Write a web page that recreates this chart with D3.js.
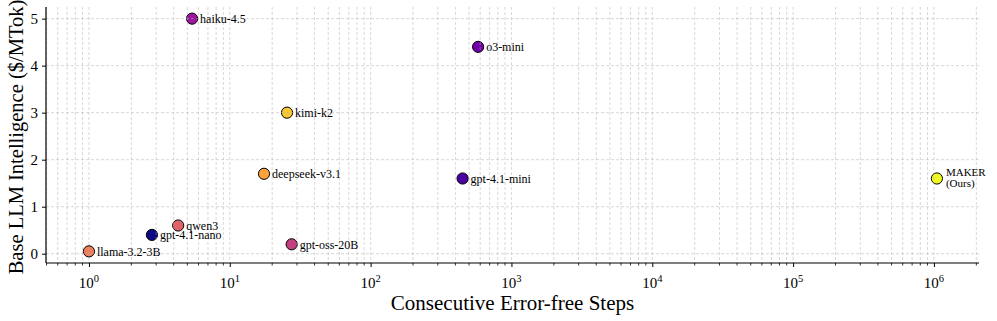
<!DOCTYPE html>
<html>
<head>
<meta charset="utf-8">
<script src="https://cdn.jsdelivr.net/npm/d3@7"></script>
<style>
  body { margin: 0; background: #fff; }
  svg { font-family: "Liberation Serif", "DejaVu Serif", serif; }
  .grid line { stroke: #b0b0b0; stroke-dasharray: 3,2; stroke-width: 0.8; opacity: 0.6; }
  .axis path, .axis line { stroke: #000; }
  .axis text { fill: #000; }
</style>
</head>
<body>
<div id="chart"></div>
<script>
// model names, steps and price
var models = ["llama-3.2-3B", "gpt-4.1-nano", "qwen3", "haiku-4.5", "deepseek-v3.1",
              "kimi-k2", "gpt-oss-20B", "gpt-4.1-mini", "o3-mini", "MAKER"];
var steps  = [1, 2.8, 4.3, 5.4, 17.5, 25.5, 27.5, 450, 580, 1.05e6];
var cost   = [0.05, 0.4, 0.6, 5, 1.7, 3, 0.2, 1.6, 4.4, 1.6];
var colors = ["#ef7d5a", "#0d0887", "#e0636a", "#9c179e", "#fca33b",
              "#f9c72e", "#c33f80", "#4c02a1", "#7301a8", "#f0f921"];
var yTicks = [0, 1, 2, 3, 4, 5];
var xTicks = [1, 10, 100, 1e3, 1e4, 1e5, 1e6];

var margin = {top: 7, right: 18, bottom: 58, left: 46}
  , width = 997 - margin.left - margin.right
  , height = 321 - margin.top - margin.bottom;

var x = d3.scaleLog()
    .domain([Math.pow(10, -0.305), Math.pow(10, 6.32)])
    .range([0, width]);

var y = d3.scaleLinear()
    .domain([-0.1975, 5.2475])
    .range([height, 0]);

var svg = d3.select("#chart").append("svg")
    .attr("width", 997)
    .attr("height", 321);

var main = svg.append("g")
    .attr("transform", "translate(" + margin.left + "," + margin.top + ")");

// minor tick values for the log axis
var minorTicks = [];
for (var e = -1; e <= 6; e++) {
  for (var m = 2; m <= 9; m++) {
    var v = m * Math.pow(10, e);
    if (v >= x.domain()[0] && v <= x.domain()[1]) minorTicks.push(v);
  }
}

var data = models.map(function(name, i) {
  return {name: name, steps: steps[i], cost: cost[i], color: colors[i]};
});

// points
main.append("g").selectAll("circle")
  .data(data)
  .enter().append("circle")
    .attr("cx", function(d) { return x(d.steps); })
    .attr("cy", function(d) { return y(d.cost); })
    .attr("r", 5.6)
    .attr("fill", function(d) { return d.color; })
    .attr("stroke", "#000")
    .attr("stroke-width", 1);

// grid (sits over the markers like in the original)
var grid = main.append("g").attr("class", "grid");
grid.selectAll(".gx")
  .data(xTicks.concat(minorTicks))
  .enter().append("line")
    .attr("x1", function(d) { return x(d); })
    .attr("x2", function(d) { return x(d); })
    .attr("y1", 0)
    .attr("y2", height);
grid.selectAll(".gy")
  .data(yTicks)
  .enter().append("line")
    .attr("x1", 0)
    .attr("x2", width)
    .attr("y1", function(d) { return y(d); })
    .attr("y2", function(d) { return y(d); });

// labels
var labels = main.append("g")
    .attr("font-size", 12);
labels.selectAll("text")
  .data(data.filter(function(d) { return d.name !== "MAKER"; }))
  .enter().append("text")
    .attr("x", function(d) { return x(d.steps) + 8; })
    .attr("y", function(d) { return y(d.cost); })
    .attr("dy", "0.35em")
    .text(function(d) { return d.name; });

var maker = data[data.length - 1];
var mk = labels.append("text")
    .attr("font-size", 11)
    .attr("x", x(maker.steps) + 9)
    .attr("y", y(maker.cost));
mk.append("tspan").attr("x", x(maker.steps) + 9).attr("dy", "-0.25em").text("MAKER");
mk.append("tspan").attr("x", x(maker.steps) + 9).attr("dy", "1.05em").text("(Ours)");

// x axis
var xAxisG = main.append("g")
    .attr("class", "axis")
    .attr("transform", "translate(0," + height + ")");
xAxisG.call(d3.axisBottom(x).tickValues(xTicks).tickSize(4).tickFormat(""))
xAxisG.select(".domain").attr("stroke-width", 1.2);
xAxisG.selectAll(".tick line").attr("stroke-width", 1);

xAxisG.selectAll(".minor")
  .data(minorTicks)
  .enter().append("line")
    .attr("class", "minor")
    .attr("x1", function(d) { return x(d); })
    .attr("x2", function(d) { return x(d); })
    .attr("y1", 0)
    .attr("y2", 2.5)
    .attr("stroke", "#000")
    .attr("stroke-width", 0.8);

var xt = xAxisG.selectAll(".xlab")
  .data(xTicks)
  .enter().append("text")
    .attr("class", "xlab")
    .attr("x", function(d) { return x(d); })
    .attr("y", 25)
    .attr("text-anchor", "middle")
    .attr("font-size", 15);
xt.append("tspan").text("10");
xt.append("tspan")
    .attr("dy", "-0.55em")
    .attr("font-size", 10.5)
    .text(function(d) { return Math.round(Math.log10(d)); });

// y axis
var yAxisG = main.append("g")
    .attr("class", "axis")
    .call(d3.axisLeft(y).tickValues(yTicks).tickSize(4).tickPadding(4).tickFormat(d3.format("d")));
yAxisG.attr("font-family", null);
yAxisG.select(".domain").attr("stroke-width", 1.2);
yAxisG.selectAll(".tick text")
    .attr("font-size", 15);

// only left and bottom spines
xAxisG.attr("font-family", null);
xAxisG.select(".domain").attr("d", "M0,0H" + width);
yAxisG.select(".domain").attr("d", "M0," + height + "V0");

// titles
svg.append("text")
    .attr("x", margin.left + width / 2)
    .attr("y", 310)
    .attr("text-anchor", "middle")
    .attr("font-size", 21)
    .text("Consecutive Error-free Steps");

svg.append("text")
    .attr("transform", "translate(23," + (margin.top + height / 2 + 2) + ") rotate(-90)")
    .attr("text-anchor", "middle")
    .attr("font-size", 20.5)
    .text("Base LLM Intelligence ($/MTok)");
</script>
</body>
</html>
